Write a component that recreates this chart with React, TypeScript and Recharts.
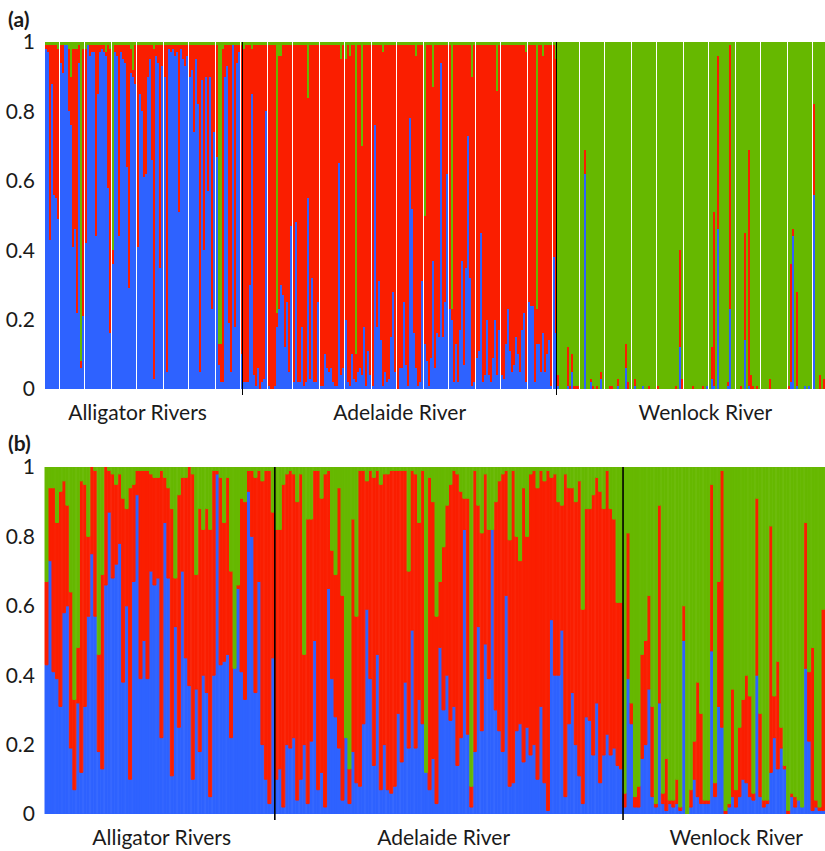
import React from "react";
import { BarChart, Bar, XAxis, YAxis, ReferenceLine } from "recharts";

const populations = ["Alligator Rivers", "Adelaide River", "Wenlock River"];
const yTicks = [0, 0.2, 0.4, 0.6, 0.8, 1];

// (a) membership per individual, in percent (blue / red / green cluster)
const aAlligatorBlue = [
  98, 97, 43, 88, 56, 55, 49, 94, 91, 99,
  99, 80, 76, 41, 46, 22, 94, 6, 21, 42,
  99, 96, 97, 97, 44, 85, 97, 98, 97, 96,
  58, 16, 36, 97, 96, 44, 97, 95, 94, 64,
  29, 91, 90, 88, 41, 85, 80, 61, 62, 90,
  95, 66, 3, 96, 94, 35, 93, 90, 5, 98,
  97, 98, 96, 97, 51, 98, 95, 93, 96, 90,
  92, 74, 95, 82, 5, 89, 40, 90, 57, 90,
  23, 74, 67, 7, 2, 2, 90, 93, 19, 5,
  99, 18, 94, 97, 10,
];
const aAlligatorRed = [
  1, 2, 56, 11, 43, 44, 49, 5, 8, 0,
  0, 18, 14, 57, 52, 76, 5, 2, 77, 56,
  0, 3, 2, 2, 55, 14, 2, 1, 2, 1,
  41, 82, 4, 2, 3, 55, 2, 4, 5, 35,
  70, 7, 2, 11, 58, 14, 19, 38, 37, 9,
  4, 33, 95, 3, 5, 64, 6, 9, 94, 1,
  2, 1, 3, 2, 48, 1, 4, 6, 3, 9,
  7, 25, 4, 17, 94, 10, 59, 9, 42, 9,
  76, 25, 32, 6, 11, 96, 9, 6, 80, 94,
  0, 81, 5, 2, 89,
];
const aAlligatorGreen = [
  1, 1, 1, 1, 1, 1, 2, 1, 1, 1,
  1, 2, 10, 2, 2, 2, 1, 92, 2, 2,
  1, 1, 1, 1, 1, 1, 1, 1, 1, 3,
  1, 2, 60, 1, 1, 1, 1, 1, 1, 1,
  1, 2, 8, 1, 1, 1, 1, 1, 1, 1,
  1, 1, 2, 1, 1, 1, 1, 1, 1, 1,
  1, 1, 1, 1, 1, 1, 1, 1, 1, 1,
  1, 1, 1, 1, 1, 1, 1, 1, 1, 1,
  1, 1, 1, 87, 87, 2, 1, 1, 1, 1,
  1, 1, 1, 1, 1,
];

const aAdelaideBlue = [
  2, 2, 2, 30, 85, 4, 1, 6, 0, 2,
  3, 80, 1, 0, 0, 1, 18, 23, 30, 27,
  12, 25, 5, 47, 2, 48, 2, 2, 18, 1,
  2, 55, 3, 32, 2, 2, 25, 1, 1, 10,
  6, 5, 6, 2, 1, 1, 65, 4, 6, 20,
  2, 1, 10, 3, 2, 5, 6, 4, 18, 1,
  11, 4, 1, 76, 18, 31, 14, 1, 5, 2,
  3, 15, 28, 5, 0, 6, 6, 25, 7, 1,
  78, 52, 16, 6, 1, 2, 31, 13, 8, 1,
  9, 37, 6, 16, 15, 94, 15, 25, 62, 23,
  20, 2, 13, 2, 17, 37, 7, 35, 73, 32,
  1, 2, 9, 11, 45, 2, 4, 20, 4, 2,
  9, 20, 4, 17, 4, 3, 13, 23, 11, 5,
  7, 15, 10, 5, 17, 22, 2, 25, 24, 24,
  2, 13, 13, 5, 16, 5, 10, 14, 1, 38, 16,
];
const aAdelaideRed = [
  96, 97, 97, 69, 13, 95, 98, 93, 99, 97,
  96, 19, 98, 99, 99, 98, 4, 73, 66, 72,
  87, 74, 94, 52, 97, 51, 97, 97, 81, 98,
  97, 29, 96, 67, 97, 97, 74, 98, 98, 89,
  93, 94, 93, 97, 98, 98, 34, 91, 93, 75,
  97, 95, 89, 96, 8, 94, 93, 66, 81, 98,
  88, 95, 98, 23, 81, 68, 85, 96, 94, 97,
  96, 84, 71, 94, 99, 93, 93, 74, 92, 98,
  21, 47, 83, 90, 98, 97, 68, 37, 91, 98,
  90, 50, 93, 83, 84, 5, 84, 74, 37, 76,
  3, 97, 86, 97, 82, 62, 92, 64, 26, 67,
  89, 97, 90, 88, 54, 97, 95, 79, 95, 97,
  90, 79, 82, 82, 95, 96, 86, 76, 88, 94,
  92, 84, 89, 94, 82, 77, 95, 74, 75, 75,
  97, 10, 86, 94, 80, 94, 89, 85, 98, 61, 79,
];
const aAdelaideGreen = [
  2, 1, 1, 1, 2, 1, 1, 1, 1, 1,
  1, 1, 1, 1, 1, 1, 78, 4, 4, 1,
  1, 1, 1, 1, 1, 1, 1, 1, 1, 1,
  1, 16, 1, 1, 1, 1, 1, 1, 1, 1,
  1, 1, 1, 1, 1, 1, 1, 5, 1, 5,
  1, 4, 1, 1, 90, 1, 1, 30, 1, 1,
  1, 1, 1, 1, 1, 1, 1, 3, 1, 1,
  1, 1, 1, 1, 1, 1, 1, 1, 1, 1,
  1, 1, 1, 4, 1, 1, 1, 50, 1, 1,
  1, 13, 1, 1, 1, 1, 1, 1, 1, 1,
  77, 1, 1, 1, 1, 1, 1, 1, 1, 1,
  10, 1, 1, 1, 1, 1, 1, 1, 1, 1,
  1, 1, 14, 1, 1, 1, 1, 1, 1, 1,
  1, 1, 1, 1, 1, 1, 3, 1, 1, 1,
  1, 77, 1, 1, 4, 1, 1, 1, 1, 1, 5,
];

const aWenlockBlue = [
  1, 0, 0, 0, 0, 1, 0, 5, 0, 0,
  0, 0, 0, 62, 0, 0, 2, 0, 0, 0,
  0, 3, 0, 0, 0, 0, 0, 0, 0, 1,
  0, 0, 0, 6, 0, 0, 0, 1, 0, 0,
  0, 1, 0, 0, 0, 0, 0, 0, 0, 0,
  0, 0, 0, 0, 0, 0, 0, 0, 0, 12,
  0, 0, 0, 0, 0, 0, 0, 0, 0, 0,
  0, 0, 1, 0, 3, 1, 0, 46, 0, 0,
  0, 0, 1, 23, 0, 0, 0, 0, 0, 0,
  14, 0, 1, 0, 0, 0, 0, 0, 0, 0,
  0, 0, 0, 0, 0, 0, 0, 0, 0, 0,
  0, 0, 2, 44, 0, 1, 0, 0, 0, 1,
  0, 1, 0, 56, 0, 0, 0, 0, 0,
];
const aWenlockRed = [
  3, 0, 0, 0, 0, 11, 1, 5, 1, 1,
  1, 0, 0, 7, 0, 0, 1, 1, 0, 1,
  0, 2, 0, 0, 0, 1, 1, 0, 0, 2,
  0, 0, 0, 7, 2, 0, 0, 2, 0, 0,
  0, 0, 0, 0, 1, 0, 0, 0, 1, 0,
  0, 0, 0, 0, 0, 0, 0, 1, 0, 28,
  3, 0, 0, 0, 0, 1, 0, 0, 0, 0,
  1, 0, 0, 0, 9, 50, 0, 50, 0, 0,
  0, 0, 1, 76, 0, 0, 0, 0, 1, 0,
  31, 0, 68, 4, 1, 0, 1, 0, 0, 0,
  0, 0, 3, 0, 0, 0, 0, 0, 0, 0,
  0, 1, 34, 2, 0, 27, 0, 0, 0, 0,
  0, 0, 0, 26, 0, 0, 4, 0, 3,
];
const aWenlockGreen = [
  96, 100, 100, 100, 100, 88, 99, 90, 99, 99,
  99, 100, 100, 31, 100, 100, 97, 99, 100, 99,
  100, 95, 100, 100, 100, 99, 99, 100, 100, 97,
  100, 100, 100, 87, 98, 100, 100, 97, 100, 100,
  100, 99, 100, 100, 99, 100, 100, 100, 99, 100,
  100, 100, 100, 100, 100, 100, 100, 99, 100, 60,
  97, 100, 100, 100, 100, 99, 100, 100, 100, 100,
  99, 100, 99, 100, 88, 49, 100, 4, 100, 100,
  100, 100, 98, 1, 100, 100, 100, 100, 99, 100,
  55, 100, 31, 96, 99, 100, 99, 100, 100, 100,
  100, 100, 97, 100, 100, 100, 100, 100, 100, 100,
  100, 99, 64, 54, 100, 72, 100, 100, 100, 99,
  100, 99, 100, 18, 100, 100, 96, 100, 97,
];

// (b) membership per individual, in percent
const bAlligatorBlue = [
  43, 73, 41, 39, 31, 58, 60, 19, 7, 32,
  12, 31, 57, 75, 57, 18, 13, 66, 87, 68,
  72, 78, 38, 60, 10, 67, 92, 39, 50, 39,
  70, 66, 68, 22, 84, 68, 11, 54, 25, 70,
  45, 37, 10, 36, 18, 40, 35, 5, 40, 98,
  43, 44, 46, 22, 42, 65, 41, 33, 93, 80,
  35, 67, 20, 10, 3, 45,
];
const bAlligatorRed = [
  24, 21, 53, 45, 62, 38, 29, 45, 26, 16,
  84, 64, 23, 25, 42, 28, 56, 34, 12, 30,
  23, 20, 53, 28, 84, 28, 7, 60, 49, 60,
  28, 31, 29, 77, 13, 26, 77, 14, 67, 27,
  52, 63, 88, 33, 70, 42, 53, 77, 59, 1,
  54, 40, 51, 48, 0, 1, 50, 57, 6, 19,
  62, 32, 76, 89, 96, 42,
];
const bAlligatorGreen = [
  33, 6, 6, 16, 7, 4, 11, 36, 67, 52,
  4, 5, 20, 0, 1, 54, 31, 0, 1, 2,
  5, 2, 9, 12, 6, 5, 1, 1, 1, 1,
  2, 3, 3, 1, 3, 6, 12, 32, 8, 3,
  3, 0, 2, 31, 12, 18, 12, 18, 1, 1,
  3, 16, 3, 30, 58, 34, 9, 10, 1, 1,
  3, 1, 4, 1, 1, 13,
];

const bAdelaideBlue = [
  10, 13, 2, 20, 19, 22, 4, 10, 20, 3,
  21, 50, 7, 12, 2, 65, 39, 28, 19, 4,
  22, 3, 18, 9, 8, 26, 59, 39, 14, 46,
  7, 20, 7, 6, 8, 29, 15, 38, 19, 53,
  19, 33, 26, 12, 7, 16, 3, 48, 30, 40,
  27, 31, 14, 22, 82, 23, 2, 18, 54, 24,
  49, 39, 82, 30, 24, 18, 63, 8, 9, 24,
  26, 15, 25, 17, 20, 10, 31, 9, 1, 56,
  40, 40, 53, 5, 26, 35, 20, 11, 3, 28,
  27, 17, 32, 9, 17, 23, 17, 19, 14, 13,
];
const bAdelaideRed = [
  72, 69, 93, 78, 80, 76, 86, 88, 26, 82,
  64, 49, 92, 79, 96, 34, 37, 41, 75, 59,
  0, 10, 67, 48, 91, 73, 37, 60, 83, 53,
  88, 78, 91, 93, 91, 70, 84, 61, 51, 46,
  79, 51, 73, 0, 90, 74, 54, 19, 47, 49,
  68, 68, 84, 71, 9, 68, 6, 81, 35, 57,
  49, 43, 0, 60, 72, 80, 36, 71, 90, 56,
  47, 79, 55, 81, 79, 84, 68, 87, 98, 41,
  58, 50, 36, 93, 68, 59, 70, 85, 56, 60,
  61, 75, 65, 84, 71, 76, 71, 66, 47, 48,
];
const bAdelaideGreen = [
  18, 18, 5, 2, 1, 2, 10, 2, 54, 15,
  15, 1, 1, 9, 2, 1, 24, 31, 6, 37,
  78, 87, 15, 43, 1, 1, 4, 1, 3, 1,
  5, 2, 2, 1, 1, 1, 1, 1, 30, 1,
  2, 16, 1, 88, 3, 10, 43, 33, 23, 11,
  5, 1, 2, 7, 9, 9, 92, 1, 11, 19,
  2, 18, 18, 10, 4, 2, 1, 21, 1, 20,
  27, 6, 20, 2, 1, 6, 1, 4, 1, 3,
  2, 10, 11, 2, 6, 6, 10, 4, 41, 12,
  12, 8, 3, 7, 12, 1, 12, 15, 39, 39,
];

const bWenlockBlue = [
  2, 39, 26, 2, 2, 16, 20, 36, 5, 2,
  32, 3, 1, 3, 2, 3, 1, 50, 0, 2,
  10, 5, 3, 3, 3, 47, 5, 31, 25, 0,
  2, 5, 2, 5, 10, 9, 5, 4, 40, 5,
  2, 3, 12, 22, 13, 19, 13, 0, 5, 2,
  4, 2, 42, 21, 1, 2, 1, 1,
];
const bWenlockRed = [
  4, 42, 6, 3, 6, 30, 30, 27, 26, 1,
  57, 3, 15, 1, 2, 7, 1, 10, 0, 5,
  11, 33, 26, 1, 1, 48, 4, 36, 74, 1,
  1, 31, 5, 20, 23, 31, 29, 2, 51, 24,
  2, 1, 71, 12, 31, 6, 1, 1, 1, 3,
  0, 0, 42, 20, 47, 2, 1, 58,
];
const bWenlockGreen = [
  94, 19, 68, 95, 92, 54, 50, 37, 69, 97,
  11, 94, 84, 96, 96, 90, 98, 40, 100, 93,
  79, 62, 71, 96, 96, 5, 91, 33, 1, 99,
  97, 64, 93, 75, 67, 60, 66, 94, 9, 71,
  96, 96, 17, 66, 56, 75, 86, 99, 94, 95,
  96, 98, 16, 59, 52, 96, 98, 41,
];

// bar index (within each population) under which the population name sits
const aLabelAt = [44, 75, 71];
const bLabelAt = [33, 48, 32];

const colors = { blue: "#2e62ff", red: "#fa1e00", green: "#66b800" };
const font = "Lato, 'Open Sans', sans-serif";
const ink = "#1a1a1a";

type Row = { id: string; blue: number; red: number; green: number };

function buildPanel(prefix: string, groups: number[][][], labelAt: number[]) {
  const rows: Row[] = [];
  const starts: string[] = [];
  const labels: Record<string, string> = {};
  groups.forEach(([blue, red, green], g) => {
    const offset = rows.length;
    blue.forEach((b, i) => {
      const sum = b + red[i] + green[i] || 1;
      rows.push({ id: `${prefix}${offset + i}`, blue: b / sum, red: red[i] / sum, green: green[i] / sum });
    });
    if (g > 0) starts.push(`${prefix}${offset}`);
    labels[`${prefix}${offset + labelAt[g]}`] = populations[g];
  });
  return { rows, starts, labels };
}

const panelA = buildPanel(
  "a",
  [
    [aAlligatorBlue, aAlligatorRed, aAlligatorGreen],
    [aAdelaideBlue, aAdelaideRed, aAdelaideGreen],
    [aWenlockBlue, aWenlockRed, aWenlockGreen],
  ],
  aLabelAt
);
const panelB = buildPanel(
  "b",
  [
    [bAlligatorBlue, bAlligatorRed, bAlligatorGreen],
    [bAdelaideBlue, bAdelaideRed, bAdelaideGreen],
    [bWenlockBlue, bWenlockRed, bWenlockGreen],
  ],
  bLabelAt
);

const separator = (p: any) => {
  const top = Math.min(p.y1, p.y2);
  const bottom = Math.max(p.y1, p.y2);
  return <line x1={p.x1} x2={p.x2} y1={top} y2={bottom + 6} stroke="#000" strokeWidth={1.6} />;
};

// seamless: no crisp rounding (which leaves white slits), bars outlined in their own colour
function StructurePanel({ panel, seamless }: { panel: ReturnType<typeof buildPanel>; seamless?: boolean }) {
  const edge = (c: string) => (seamless ? { stroke: c, strokeWidth: 1 } : {});
  return (
    <BarChart
      width={825}
      height={425}
      data={panel.rows}
      margin={{ top: 42, right: 0, bottom: 0, left: 0 }}
      barCategoryGap={0}
      barGap={0}
    >
      <XAxis
        dataKey="id"
        height={36}
        interval={0}
        ticks={Object.keys(panel.labels)}
        tickFormatter={(v: string) => panel.labels[v] ?? ""}
        axisLine={false}
        tickLine={false}
        tickMargin={10}
        tick={{ fontFamily: font, fontSize: 21, fill: ink }}
      />
      <YAxis
        width={45}
        type="number"
        domain={[0, 1]}
        allowDataOverflow
        ticks={yTicks}
        tickFormatter={(v: number) => String(v)}
        axisLine={false}
        tickLine={false}
        tickMargin={4}
        tick={{ fontFamily: font, fontSize: 21, fill: ink }}
      />
      <Bar dataKey="blue" stackId="q" fill={colors.blue} {...edge(colors.blue)} isAnimationActive={false} />
      <Bar dataKey="red" stackId="q" fill={colors.red} {...edge(colors.red)} isAnimationActive={false} />
      <Bar dataKey="green" stackId="q" fill={colors.green} {...edge(colors.green)} isAnimationActive={false} />
      {panel.starts.map((id) => (
        <ReferenceLine key={id} x={id} position="start" ifOverflow="visible" shape={separator} />
      ))}
    </BarChart>
  );
}

const panelTag: React.CSSProperties = {
  position: "absolute",
  left: 8,
  fontFamily: font,
  fontWeight: 700,
  fontSize: 21,
  lineHeight: "21px",
  color: ink,
};

export default function App() {
  return (
    <div style={{ position: "absolute", left: 0, top: 0, width: 825, height: 851, overflow: "hidden", background: "#fff" }}>
      <div style={{ ...panelTag, top: 8 }}>(a)</div>
      <div style={{ position: "absolute", left: 0, top: 0, shapeRendering: "crispEdges" }}>
        <StructurePanel panel={panelA} />
      </div>
      <div style={{ ...panelTag, top: 432 }}>(b)</div>
      <div style={{ position: "absolute", left: 0, top: 425 }}>
        <StructurePanel panel={panelB} seamless />
      </div>
    </div>
  );
}
